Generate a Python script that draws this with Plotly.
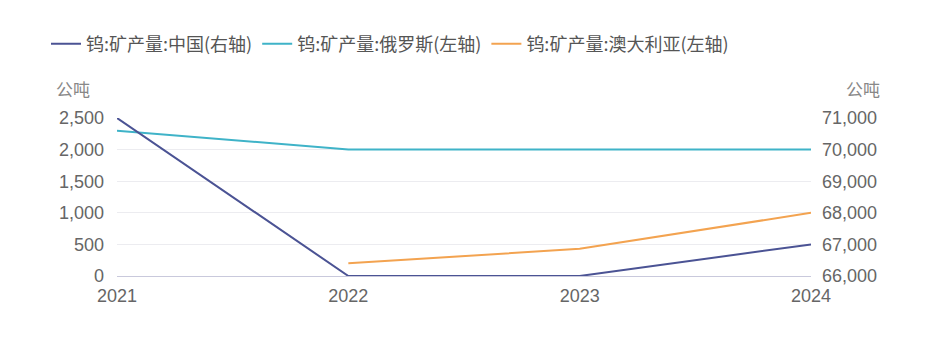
import plotly.graph_objects as go

years = ["2021", "2022", "2023", "2024"]
china = [71000, 66000, 66000, 67000]        # right axis
russia = [2300, 2000, 2000, 2000]           # left axis
australia = [None, 200, 430, 1000]          # left axis

names = ["钨:矿产量:中国(右轴)", "钨:矿产量:俄罗斯(左轴)", "钨:矿产量:澳大利亚(左轴)"]
colors = ["#4b5394", "#3fb3c8", "#f3a350"]
cjk_font = "Noto Sans CJK SC, Noto Sans, sans-serif"
num_font = "Liberation Sans, Arial, sans-serif"

L, R, T, B = 117, 126, 118, 63
W, H = 937, 339
pw = W - L - R
ph = H - T - B
def px(xp): return (xp - L) / pw
def py(yp): return (H - B - yp) / ph

fig = go.Figure()
fig.add_trace(go.Scatter(x=years, y=china, name=names[0], mode="lines",
                         line=dict(color=colors[0], width=2), yaxis="y2"))
fig.add_trace(go.Scatter(x=years, y=russia, name=names[1], mode="lines",
                         line=dict(color=colors[1], width=2), yaxis="y"))
fig.add_trace(go.Scatter(x=years, y=australia, name=names[2], mode="lines",
                         line=dict(color=colors[2], width=2), yaxis="y"))

tickfont = dict(family=num_font, size=18, color="#666666")
fig.update_layout(
    width=W, height=H,
    margin=dict(l=L, r=R, t=T, b=B),
    paper_bgcolor="white", plot_bgcolor="white",
    font=dict(family=cjk_font, color="#555555"),
    showlegend=True,
    legend=dict(orientation="h", x=px(46), xref="paper", y=py(44), yref="paper",
                xanchor="left", yanchor="middle",
                font=dict(family=cjk_font, size=18, color="#555555"),
                itemwidth=30, tracegroupgap=0, bgcolor="rgba(0,0,0,0)"),
    xaxis=dict(type="category", range=[0, 3], showgrid=False,
               showline=True, linecolor="#c9c9dc", linewidth=1,
               ticks="", tickfont=tickfont, ticklabelstandoff=3, fixedrange=True),
    yaxis=dict(range=[0, 2500], tickvals=[0, 500, 1000, 1500, 2000, 2500],
               tickformat=",", showgrid=True, gridcolor="#ececf0",
               zeroline=False, showline=False, tickfont=tickfont, ticks="",
               ticklabelstandoff=12),
    yaxis2=dict(range=[66000, 71000],
                tickvals=[66000, 67000, 68000, 69000, 70000, 71000],
                tickformat=",", overlaying="y", side="right", showgrid=False,
                zeroline=False, showline=False, tickfont=tickfont, ticks="",
                ticklabelstandoff=10),
    annotations=[
        dict(text="公吨", x=px(73), y=py(89), xref="paper", yref="paper", showarrow=False,
             xanchor="center", yanchor="middle",
             font=dict(family=cjk_font, size=17, color="#888888")),
        dict(text="公吨", x=px(863), y=py(89), xref="paper", yref="paper", showarrow=False,
             xanchor="center", yanchor="middle",
             font=dict(family=cjk_font, size=17, color="#888888")),
    ],
)
fig.write_html("out.html")
